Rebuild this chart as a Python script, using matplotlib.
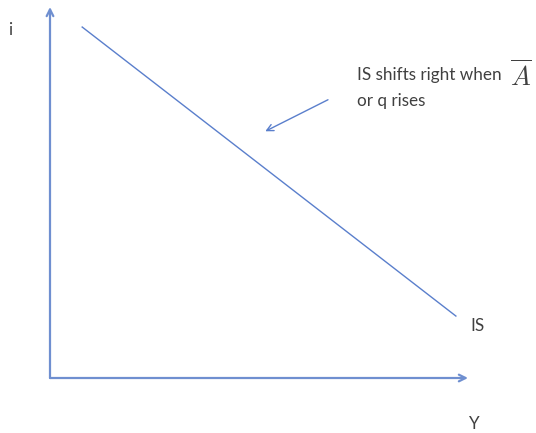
import matplotlib
matplotlib.use("Agg")
import matplotlib.pyplot as plt

# IS curve (Y, i) in diagram units
is_Y = [0.77, 9.71]
is_i = [9.46, 1.67]
# annotation arrow: tail and head
arrow_tail = (6.65, 7.5)
arrow_head = (5.15, 6.65)

line_col = "#5A7FCC"
axis_col = "#6F8FD0"
text_col = "#404040"

plt.rcParams['font.family'] = ['Lato', 'DejaVu Sans']
plt.rcParams['mathtext.fontset'] = 'cm'

fig = plt.figure(figsize=(5.36, 4.33), dpi=100)
ax = fig.add_axes([50/536, (433-378)/433, 418/536, 371/433])
ax.set_xlim(0, 10)
ax.set_ylim(0, 10)
ax.axis('off')

# axes with arrows
ax.annotate("", xy=(10, 0), xytext=(0, 0),
            arrowprops=dict(arrowstyle="->", color=axis_col, lw=1.6,
                            shrinkA=0, shrinkB=0, mutation_scale=12))
ax.annotate("", xy=(0, 10), xytext=(0, 0),
            arrowprops=dict(arrowstyle="->", color=axis_col, lw=1.6,
                            shrinkA=0, shrinkB=0, mutation_scale=12))

ax.plot(is_Y, is_i, color=line_col, lw=1.0)

ax.annotate("", xy=arrow_head, xytext=arrow_tail,
            arrowprops=dict(arrowstyle="->", color=line_col, lw=1.0,
                            shrinkA=0, shrinkB=0, mutation_scale=12))

fs = 12.3
fig.text(8/536, 1 - 30/433, "i", color=text_col, fontsize=fs, va='center')
fig.text(357/536, 1 - 75/433, "IS shifts right when", color=text_col, fontsize=fs, va='center')
fig.text(357/536, 1 - 101/433, "or q rises", color=text_col, fontsize=fs, va='center')
fig.text(510/536, 1 - 75/433, r"$\overline{A}$", color=text_col, fontsize=19, va='center')
fig.text(470/536, 1 - 326/433, "IS", color=text_col, fontsize=fs, va='center')
fig.text(469/536, 1 - 424/433, "Y", color=text_col, fontsize=fs, va='center')

fig.savefig("out.png", dpi=100)
